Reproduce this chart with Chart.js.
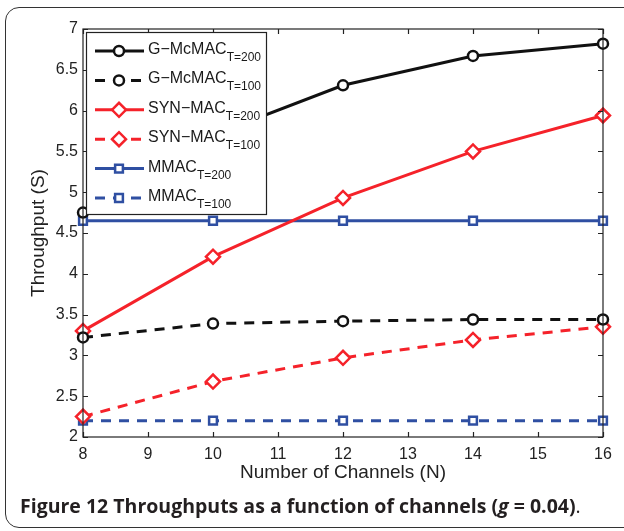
<!DOCTYPE html>
<html><head><meta charset="utf-8">
<script src="https://cdn.jsdelivr.net/npm/chart.js@4.4.1/dist/chart.umd.min.js"></script>
<style>
html,body{margin:0;padding:0;background:#fff;overflow:hidden;width:624px;height:531px;}
#frame{position:absolute;left:5px;top:7px;width:660px;height:521px;border:1.5px solid #333;border-radius:14px;box-sizing:border-box;}
#wrap{position:absolute;left:0;top:0;width:624px;height:531px;}
#caption{position:absolute;left:20px;top:496px;font-family:"Open Sans",sans-serif;font-size:19.5px;line-height:20px;color:#231f20;white-space:nowrap;}
#caption b{font-weight:700;}
</style></head>
<body>
<div id="frame"></div>
<div id="wrap"><canvas id="c" width="624" height="531"></canvas></div>
<div id="caption"><b>Figure 12 Throughputs as a function of channels (<i>g</i> = 0.04)</b>.</div>
<script>
const channels = [8, 10, 12, 14, 16];
const gmcmac200 = [4.75, 5.70, 6.31, 6.67, 6.82];
const gmcmac100 = [3.22, 3.39, 3.42, 3.44, 3.44];
const synmac200 = [3.30, 4.21, 4.93, 5.50, 5.94];
const synmac100 = [2.25, 2.68, 2.97, 3.19, 3.35];
const mmac200 = [4.65, 4.65, 4.65, 4.65, 4.65];
const mmac100 = [2.20, 2.20, 2.20, 2.20, 2.20];
const seriesNames = ["G\u2212McMAC", "G\u2212McMAC", "SYN\u2212MAC", "SYN\u2212MAC", "MMAC", "MMAC"];
const seriesSubs = ["T=200", "T=100", "T=200", "T=100", "T=200", "T=100"];
const xTicks = [8, 9, 10, 11, 12, 13, 14, 15, 16];
const yTicks = [2, 2.5, 3, 3.5, 4, 4.5, 5, 5.5, 6, 6.5, 7];

const BLACK = '#111111', RED = '#f5222a', BLUE = '#2f4fa2';
const DASH = [10, 8];
const FONT = '"Liberation Sans", Arial, sans-serif';
function pts(arr){ return channels.map((c,i)=>({x:c, y:arr[i]})); }
function ds(data, color, dashed, style, radius){
  return {data: pts(data), borderColor: color, backgroundColor: '#ffffff', borderWidth: 3,
    borderDash: dashed ? DASH : [], pointStyle: style, pointRadius: radius, pointHoverRadius: radius,
    pointBorderColor: color, pointBackgroundColor: '#ffffff', pointBorderWidth: 2.5, tension: 0, clip: false, fill:false};
}
const datasets = [
  ds(gmcmac200, BLACK, false, 'circle', 5),
  ds(gmcmac100, BLACK, true, 'circle', 5),
  ds(synmac200, RED, false, 'rectRot', 7),
  ds(synmac100, RED, true, 'rectRot', 7),
  ds(mmac200, BLUE, false, 'rect', 5.5),
  ds(mmac100, BLUE, true, 'rect', 5.5)
];

const frameTicks = {
  id: 'frameTicks',
  afterDatasetsDraw(chart){
    const {ctx, chartArea: a, scales: {x, y}} = chart;
    ctx.save();
    ctx.strokeStyle = '#222'; ctx.lineWidth = 1.2; ctx.setLineDash([]);
    ctx.strokeRect(a.left, a.top, a.right - a.left, a.bottom - a.top);
    const L = 5;
    ctx.beginPath();
    xTicks.forEach(v => { const px = Math.round(x.getPixelForValue(v)) + 0.5;
      ctx.moveTo(px, a.bottom); ctx.lineTo(px, a.bottom - L);
      ctx.moveTo(px, a.top); ctx.lineTo(px, a.top + L); });
    yTicks.forEach(v => { const py = Math.round(y.getPixelForValue(v)) + 0.5;
      ctx.moveTo(a.left, py); ctx.lineTo(a.left + L, py);
      ctx.moveTo(a.right, py); ctx.lineTo(a.right - L, py); });
    ctx.stroke();
    ctx.restore();
  },
  afterDraw(chart){
    const {ctx, chartArea: a} = chart;
    const lx = a.left + 3, ly = a.top + 3, lw = 180, lh = 182;
    ctx.save();
    ctx.fillStyle = '#fff'; ctx.fillRect(lx, ly, lw, lh);
    ctx.strokeStyle = '#222'; ctx.lineWidth = 1.2; ctx.strokeRect(lx + 0.5, ly + 0.5, lw, lh);
    chart.data.datasets.forEach((d, i) => {
      const ry = ly + 19 + i * 29.4;
      ctx.save();
      ctx.strokeStyle = d.borderColor; ctx.lineWidth = d.borderWidth;
      ctx.setLineDash(d.borderDash);
      ctx.beginPath(); ctx.moveTo(lx + 9, ry); ctx.lineTo(lx + 58, ry); ctx.stroke();
      ctx.restore();
      ctx.save();
      ctx.setLineDash([]);
      ctx.strokeStyle = d.pointBorderColor; ctx.fillStyle = d.pointBackgroundColor; ctx.lineWidth = d.pointBorderWidth;
      Chart.helpers.drawPoint(ctx, {pointStyle: d.pointStyle, radius: d.pointRadius, borderWidth: d.pointBorderWidth, rotation: 0}, lx + 33, ry);
      ctx.restore();
      ctx.fillStyle = '#1a1a1a'; ctx.textAlign = 'left'; ctx.textBaseline = 'alphabetic';
      ctx.font = '16px ' + FONT;
      const tx = lx + 62;
      ctx.fillText(seriesNames[i], tx, ry + 3);
      const w = ctx.measureText(seriesNames[i]).width;
      ctx.font = '12px ' + FONT;
      ctx.fillText(seriesSubs[i], tx + w, ry + 10);
    });
    ctx.restore();
  }
};

new Chart(document.getElementById('c'), {
  type: 'line',
  data: { datasets },
  options: {
    responsive: false, animation: false, devicePixelRatio: 1,
    layout: { padding: { top: 29, right: 21, left: 0, bottom: 0 } },
    plugins: { legend: { display: false }, tooltip: { enabled: false } },
    scales: {
      x: {
        type: 'linear', min: 8, max: 16,
        afterFit(s){ s.height = 94; },
        afterBuildTicks(s){ s.ticks = xTicks.map(v => ({value: v})); },
        grid: { display: false, drawTicks: false }, border: { display: false },
        ticks: { color: '#222', padding: 8, maxRotation: 0, autoSkip: false,
          callback: v => String(v), font: { family: FONT, size: 16 } },
        title: { display: true, text: 'Number of Channels (N)', color: '#222',
          font: { family: FONT, size: 19 }, padding: { top: 0, bottom: 47 } }
      },
      y: {
        type: 'linear', min: 2, max: 7,
        afterFit(s){ s.width = 83; },
        afterBuildTicks(s){ s.ticks = yTicks.map(v => ({value: v})); },
        grid: { display: false, drawTicks: false }, border: { display: false },
        ticks: { color: '#222', padding: 5, autoSkip: false,
          callback: v => String(v), font: { family: FONT, size: 16 } },
        title: { display: true, text: 'Throughput (S)', color: '#222',
          font: { family: FONT, size: 19 }, padding: { top: 27, bottom: 0 } }
      }
    }
  },
  plugins: [frameTicks]
});
</script>
</body></html>
